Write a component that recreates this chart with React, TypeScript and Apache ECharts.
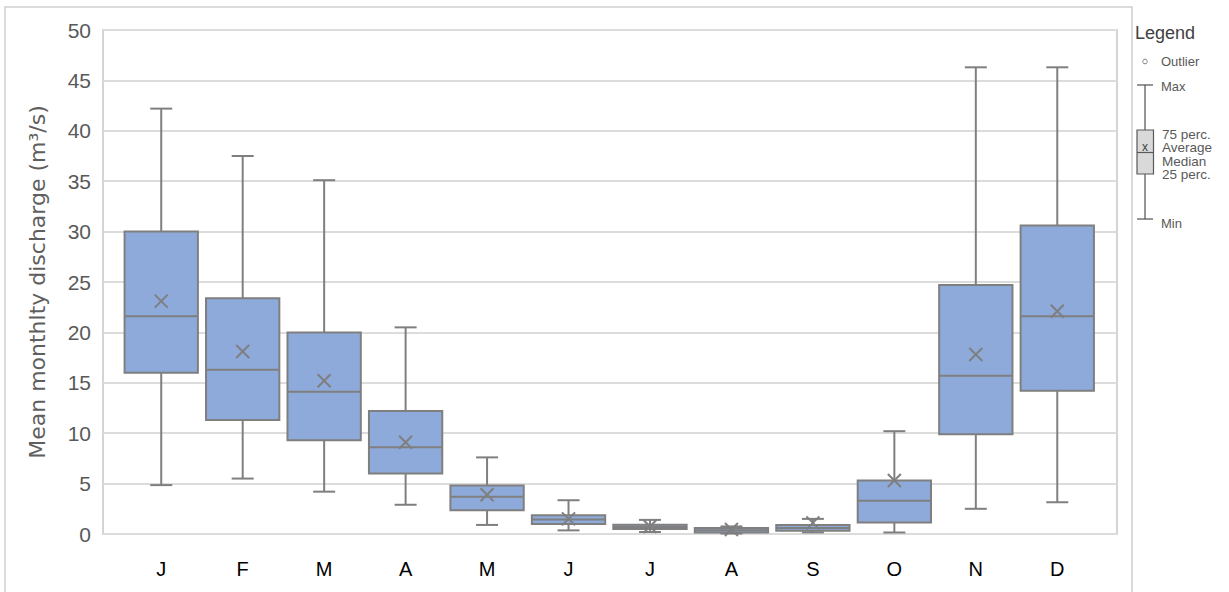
import React, { useEffect, useRef } from "react";
import * as echarts from "echarts";

const months = ["J", "F", "M", "A", "M", "J", "J", "A", "S", "O", "N", "D"];
const minVals = [4.85, 5.5, 4.2, 2.9, 0.9, 0.36, 0.2, 0.05, 0.16, 0.15, 2.5, 3.15];
const q1Vals = [16.0, 11.3, 9.3, 6.0, 2.35, 1.0, 0.5, 0.16, 0.33, 1.15, 9.9, 14.2];
const medianVals = [21.6, 16.3, 14.1, 8.6, 3.7, 1.45, 0.7, 0.38, 0.6, 3.3, 15.7, 21.6];
const q3Vals = [30.0, 23.4, 20.0, 12.2, 4.8, 1.85, 0.92, 0.6, 0.9, 5.3, 24.7, 30.6];
const maxVals = [42.2, 37.5, 35.1, 20.5, 7.6, 3.35, 1.4, 0.75, 1.5, 10.2, 46.3, 46.3];
const meanVals = [23.1, 18.1, 15.2, 9.1, 3.9, 1.5, 0.75, 0.45, 1.1, 5.3, 17.8, 22.1];

const Y_MIN = 0;
const Y_MAX = 50;
const Y_STEP = 5;

const GRAY = "#7f7f7f";
const BOX_FILL = "#8eaadb";

export default function App() {
  const ref = useRef<HTMLDivElement>(null);

  useEffect(() => {
    if (!ref.current) return;
    const chart = echarts.init(ref.current, null, { renderer: "svg" });

    const data = months.map((_, i) => [
      i,
      minVals[i],
      q1Vals[i],
      medianVals[i],
      q3Vals[i],
      maxVals[i],
      meanVals[i],
    ]);

    const renderItem = (params: any, api: any) => {
      const x = api.value(0);
      const bw = api.size([1, 0])[0] * 0.9;
      const cap = 22;
      const pMin = api.coord([x, api.value(1)]);
      const pQ1 = api.coord([x, api.value(2)]);
      const pMed = api.coord([x, api.value(3)]);
      const pQ3 = api.coord([x, api.value(4)]);
      const pMax = api.coord([x, api.value(5)]);
      const pMean = api.coord([x, api.value(6)]);
      const cx = pMed[0];
      const ls = { stroke: GRAY, lineWidth: 2 };
      const m = 6.5;
      return {
        type: "group",
        children: [
          { type: "line", shape: { x1: cx, y1: pMax[1], x2: cx, y2: pQ3[1] }, style: ls },
          { type: "line", shape: { x1: cx, y1: pQ1[1], x2: cx, y2: pMin[1] }, style: ls },
          { type: "line", shape: { x1: cx - cap / 2, y1: pMax[1], x2: cx + cap / 2, y2: pMax[1] }, style: ls },
          { type: "line", shape: { x1: cx - cap / 2, y1: pMin[1], x2: cx + cap / 2, y2: pMin[1] }, style: ls },
          {
            type: "rect",
            shape: { x: cx - bw / 2, y: pQ3[1], width: bw, height: pQ1[1] - pQ3[1] },
            style: { fill: BOX_FILL, stroke: GRAY, lineWidth: 2 },
          },
          { type: "line", shape: { x1: cx - bw / 2, y1: pMed[1], x2: cx + bw / 2, y2: pMed[1] }, style: ls },
          { type: "line", shape: { x1: cx - m, y1: pMean[1] - m, x2: cx + m, y2: pMean[1] + m }, style: ls },
          { type: "line", shape: { x1: cx - m, y1: pMean[1] + m, x2: cx + m, y2: pMean[1] - m }, style: ls },
        ],
      };
    };

    const legendText = (text: string, x: number, y: number, size = 13, fill = "#595959") => ({
      type: "text",
      x,
      y,
      style: {
        text,
        fill,
        font: `${size}px "Liberation Sans", Arial, sans-serif`,
        textVerticalAlign: "middle",
        textAlign: "left",
      },
      silent: true,
    });

    const option: any = {
      animation: false,
      backgroundColor: "#ffffff",
      grid: [
        {
          left: 103,
          right: 1229 - 1117,
          top: 30,
          bottom: 592 - 534,
          show: true,
          borderColor: "#d4d4d4",
          borderWidth: 2,
          backgroundColor: "transparent",
        },
        {
          left: 120.5,
          right: 1229 - 1098,
          top: 30,
          bottom: 592 - 534,
        },
      ],
      xAxis: [
        { type: "value", gridIndex: 0, min: 0, max: 1, show: false },
        {
          type: "category",
          gridIndex: 1,
          data: months,
          boundaryGap: true,
          axisLine: { show: false },
          axisTick: { show: false },
          splitLine: { show: false },
          axisLabel: {
            color: "#000000",
            fontSize: 20,
            fontFamily: "Liberation Sans, Arial, sans-serif",
            margin: 25,
            interval: 0,
          },
        },
      ],
      yAxis: [
        {
          type: "value",
          gridIndex: 0,
          min: Y_MIN,
          max: Y_MAX,
          interval: Y_STEP,
          axisLine: { show: false },
          axisTick: { show: false },
          splitLine: { show: true, lineStyle: { color: "#dcdcdc", width: 2 } },
          axisLabel: {
            color: "#595959",
            fontSize: 21,
            fontFamily: "Liberation Sans, Arial, sans-serif",
            margin: 12,
          },
          name: "Mean monthlty discharge (m³/s)",
          nameLocation: "middle",
          nameGap: 55,
          nameRotate: 90,
          nameTextStyle: {
            color: "#5f5f5f",
            fontSize: 22,
            fontFamily: "DejaVu Sans, sans-serif",
          },
        },
        {
          type: "value",
          gridIndex: 1,
          min: Y_MIN,
          max: Y_MAX,
          interval: Y_STEP,
          show: false,
          splitLine: { show: false },
        },
      ],
      series: [
        {
          type: "custom",
          xAxisIndex: 1,
          yAxisIndex: 1,
          renderItem,
          data,
          encode: { x: 0, y: [1, 2, 3, 4, 5, 6] },
          clip: false,
        },
      ],
      graphic: [
        {
          type: "rect",
          shape: { x: 5, y: 7, width: 1127, height: 600 },
          style: { fill: "none", stroke: "#d0d0d0", lineWidth: 1.5 },
          silent: true,
          z: -10,
        },
        legendText("Legend", 1135, 33, 18, "#404040"),
        {
          type: "circle",
          shape: { cx: 1145, cy: 61.5, r: 2.3 },
          style: { fill: "none", stroke: GRAY, lineWidth: 1 },
          silent: true,
        },
        legendText("Outlier", 1161, 61.5, 13),
        {
          type: "line",
          shape: { x1: 1145, y1: 85, x2: 1145, y2: 219 },
          style: { stroke: "#505050", lineWidth: 1.2 },
          silent: true,
        },
        {
          type: "line",
          shape: { x1: 1137, y1: 85, x2: 1153, y2: 85 },
          style: { stroke: "#505050", lineWidth: 1.2 },
          silent: true,
        },
        {
          type: "line",
          shape: { x1: 1137, y1: 219, x2: 1153, y2: 219 },
          style: { stroke: "#505050", lineWidth: 1.2 },
          silent: true,
        },
        {
          type: "rect",
          shape: { x: 1137, y: 130, width: 16.5, height: 44 },
          style: { fill: "#d9d9d9", stroke: "#595959", lineWidth: 1.2 },
          silent: true,
        },
        {
          type: "line",
          shape: { x1: 1137, y1: 152.5, x2: 1153.5, y2: 152.5 },
          style: { stroke: "#595959", lineWidth: 1.2 },
          silent: true,
        },
        {
          type: "text",
          x: 1145,
          y: 147,
          style: {
            text: "x",
            fill: "#404040",
            font: '12px "Liberation Sans", Arial, sans-serif',
            textAlign: "center",
            textVerticalAlign: "middle",
          },
          silent: true,
        },
        legendText("Max", 1161, 86.5, 13),
        legendText("75 perc.", 1162, 134, 13.5),
        legendText("Average", 1162, 147.5, 13.5),
        legendText("Median", 1162, 161, 13.5),
        legendText("25 perc.", 1162, 174.5, 13.5),
        legendText("Min", 1161, 223, 13),
      ],
    };

    chart.setOption(option);
    return () => chart.dispose();
  }, []);

  return (
    <div
      ref={ref}
      style={{ position: "absolute", left: 0, top: 0, width: 1229, height: 592 }}
    />
  );
}
